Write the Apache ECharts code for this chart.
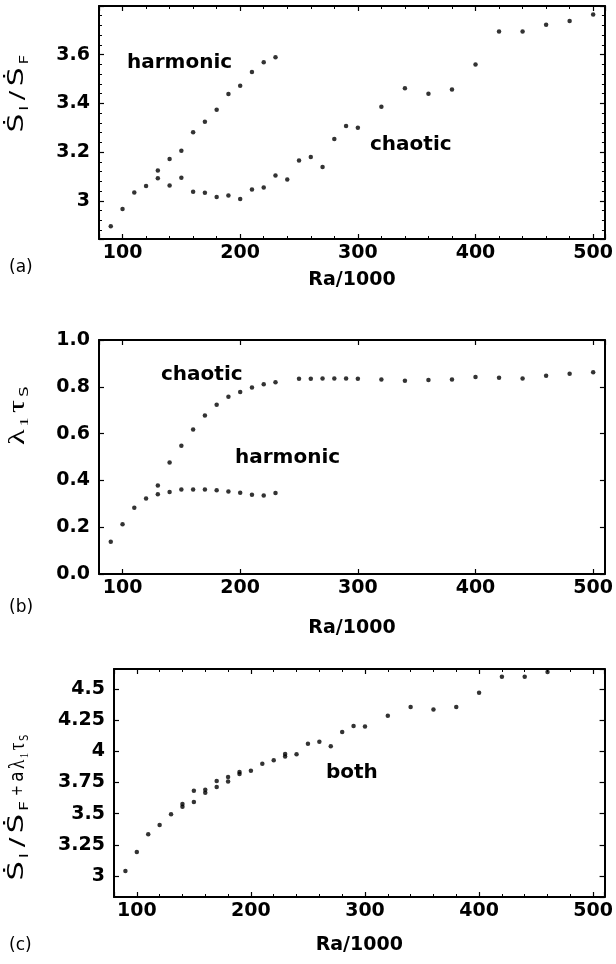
<!DOCTYPE html>
<html>
<head>
<meta charset="utf-8">
<script src="https://cdn.jsdelivr.net/npm/echarts@6/dist/echarts.min.js"></script>
<style>html,body{margin:0;padding:0;background:#fff}#c{width:616px;height:964px}</style>
</head>
<body>
<div id="c"></div>
<script>
// ---- Panel (a): S_I/S_F vs Ra/1000 ----
const aHarmRa  = [130,140,150,160,170,180,190,200,210,220,230];
const aHarmVal = [3.124,3.172,3.205,3.281,3.325,3.374,3.439,3.472,3.529,3.569,3.589];
const aChaRa   = [90,100,110,120,130,140,150,160,170,180,190,200,210,220,230,240,250,260,270,280,290,300,320,340,360,380,400,420,440,460,480,500];
const aChaVal  = [2.895,2.966,3.034,3.061,3.093,3.063,3.095,3.037,3.033,3.015,3.022,3.007,3.046,3.055,3.104,3.087,3.165,3.180,3.139,3.254,3.307,3.300,3.386,3.462,3.440,3.457,3.560,3.695,3.695,3.723,3.738,3.765];

// ---- Panel (b): lambda_1 tau_S vs Ra/1000 ----
const bChaRa   = [90,100,110,120,130,140,150,160,170,180,190,200,210,220,230,250,260,270,280,290,300,320,340,360,380,400,420,440,460,480,500];
const bChaVal  = [0.138,0.213,0.283,0.323,0.378,0.477,0.548,0.617,0.677,0.723,0.757,0.778,0.797,0.811,0.819,0.834,0.834,0.835,0.835,0.836,0.834,0.831,0.826,0.829,0.831,0.842,0.839,0.836,0.847,0.856,0.862];
const bHarmRa  = [130,140,150,160,170,180,190,200,210,220,230];
const bHarmVal = [0.341,0.350,0.361,0.361,0.361,0.358,0.353,0.347,0.339,0.336,0.346];

// ---- Panel (c): S_I/S_F + a lambda_1 tau_S (both) ----
const cRa  = [90,100,110,120,130,140,140,150,150,160,160,170,170,180,180,190,190,200,210,220,230,230,240,250,260,270,280,290,300,320,340,360,380,400,420,440,460];
const cVal = [3.040,3.193,3.335,3.408,3.496,3.555,3.577,3.593,3.684,3.668,3.692,3.714,3.762,3.759,3.794,3.818,3.834,3.845,3.901,3.928,3.958,3.979,3.976,4.062,4.078,4.041,4.156,4.204,4.199,4.285,4.357,4.336,4.355,4.470,4.599,4.599,4.636];

const xRange = [80, 510];
const yRangeA = [2.843, 3.8];
const yRangeB = [0, 1];
const yRangeC = [2.831, 4.661];

const zip = (xs, ys) => xs.map((x, i) => [x, ys[i]]);

const BOLD = 'DejaVu Sans';
const lineStyle = {color: '#000', width: 2};

function xAxes(grid, minor, gap) {
  const base = {
    type: 'value', gridIndex: grid, min: xRange[0], max: xRange[1],
    minInterval: 100, maxInterval: 100,
    axisLine: {show: true, onZero: false, lineStyle},
    axisTick: {show: true, inside: true, length: 5, lineStyle: {color: '#000', width: 1.2}},
    minorTick: {show: minor, splitNumber: 5, length: 3, lineStyle: {color: '#000', width: 1}},
    splitLine: {show: false}, minorSplitLine: {show: false}
  };
  return [
    Object.assign({}, base, {
      position: 'bottom',
      axisLabel: {show: true, color: '#000', fontFamily: BOLD, fontWeight: 'bold', fontSize: 19, margin: 5, showMinLabel: false, showMaxLabel: false},
      name: 'Ra/1000', nameLocation: 'middle', nameGap: gap,
      nameTextStyle: {color: '#000', fontFamily: BOLD, fontWeight: 'bold', fontSize: 19}
    }),
    Object.assign({}, base, {position: 'top', axisLabel: {show: false}})
  ];
}

function yAxes(grid, range, interval, minorOn, fmt) {
  const base = {
    type: 'value', gridIndex: grid, min: range[0], max: range[1],
    minInterval: interval, maxInterval: interval,
    axisLine: {show: true, onZero: false, lineStyle},
    axisTick: {show: true, inside: true, length: 5, lineStyle: {color: '#000', width: 1.2}},
    minorTick: {show: minorOn, splitNumber: 5, length: 3, lineStyle: {color: '#000', width: 1}},
    splitLine: {show: false}, minorSplitLine: {show: false}
  };
  const lab = {show: true, color: '#000', fontFamily: BOLD, fontWeight: 'bold', fontSize: 19, margin: 9};
  if (fmt) lab.formatter = fmt;
  if (grid !== 1) { lab.showMinLabel = false; lab.showMaxLabel = false; }
  return [
    Object.assign({}, base, {position: 'left', axisLabel: lab}),
    Object.assign({}, base, {position: 'right', axisLabel: {show: false}})
  ];
}

function scatter(data, xi, yi) {
  return {type: 'scatter', data, xAxisIndex: xi, yAxisIndex: yi, symbol: 'circle', symbolSize: 4.5,
          itemStyle: {color: '#000'}, silent: true, animation: false};
}

const annot = (text, x, y) => ({type: 'text', x, y, style: {text, fill: '#000', font: 'bold 20px "DejaVu Sans"', textAlign: 'left', textVerticalAlign: 'middle'}});
const panelLab = (text, x, y) => ({type: 'text', x, y, style: {text, fill: '#000', font: '17px "DejaVu Sans"', textAlign: 'left', textVerticalAlign: 'middle'}});

const richBase = {
  s:  {fontFamily: 'DejaVu Sans', fontSize: 21, lineHeight: 26, padding: [0, 1, 0, 1]},
  sb: {fontFamily: 'DejaVu Sans', fontSize: 12, lineHeight: 12, verticalAlign: 'bottom', padding: [0, 2, 0, 1]},
  n:  {fontFamily: 'DejaVu Sans', fontSize: 20, lineHeight: 26, padding: [0, 2, 0, 2]},
  p:  {fontFamily: 'DejaVu Sans', fontSize: 16, lineHeight: 26, padding: [0, 2, 0, 1]},
  g:  {fontFamily: 'Liberation Serif', fontSize: 23, lineHeight: 26, padding: [0, 1, 0, 1]},
  sg: {fontFamily: 'Liberation Serif', fontSize: 13, lineHeight: 12, verticalAlign: 'bottom', padding: [0, 2, 0, 1]}
};
function fitScale(text, target, fallback) {
  try {
    const t = new echarts.graphic.Text({style: {text, rich: richBase}});
    const r = t.getBoundingRect();
    if (r && r.width > 0) return target / r.width;
  } catch (e) {}
  return fallback;
}
const yTitle = (text, x, y, len, fb) => ({type: 'text', x, y, rotation: Math.PI / 2,
  scaleX: fitScale(text, len, fb), scaleY: 1,
  style: {text, rich: richBase, fill: '#000', textAlign: 'center', textVerticalAlign: 'middle'}});

const titleA  = '{s|Ṡ}{sb|I}{n|/}{s|Ṡ}{sb|F}';
const titleB  = '{g|λ}{sg|1}{g|τ}{sb|S}';
const titleC1 = '{s|Ṡ}{sb|I}{n|/}{s|Ṡ}{sb|F}';
const titleC2 = '{p|+}{n|a}{g|λ}{sg|1}{g|τ}{sb|S}';

const option = {
  animation: false,
  backgroundColor: '#fff',
  grid: [
    {left: 99, top: 6, width: 507, height: 233},
    {left: 99, top: 340, width: 507, height: 234},
    {left: 114, top: 669, width: 491, height: 228}
  ],
  xAxis: [...xAxes(0, true, 32), ...xAxes(1, false, 45), ...xAxes(2, true, 39)],
  yAxis: [
    ...yAxes(0, yRangeA, 0.2, true, null),
    ...yAxes(1, yRangeB, 0.2, false, v => v.toFixed(1)),
    ...yAxes(2, yRangeC, 0.25, false, null)
  ],
  series: [
    scatter(zip(aHarmRa, aHarmVal), 0, 0),
    scatter(zip(aChaRa, aChaVal), 0, 0),
    scatter(zip(bChaRa, bChaVal), 2, 2),
    scatter(zip(bHarmRa, bHarmVal), 2, 2),
    scatter(zip(cRa, cVal), 4, 4)
  ],
  graphic: [
    annot('harmonic', 127, 63),
    annot('chaotic', 370, 145),
    annot('chaotic', 161, 375),
    annot('harmonic', 235, 458),
    annot('both', 326, 773),
    panelLab('(a)', 9, 268),
    panelLab('(b)', 9, 608),
    panelLab('(c)', 9, 946),
    yTitle(titleA, 18, 93, 82, 1.45),
    yTitle(titleB, 18, 415, 63, 1.4),
    yTitle(titleC1, 18, 840, 84, 1.45),
    yTitle(titleC2, 18, 765, 64, 1.0)
  ]
};

const chart = echarts.init(document.getElementById('c'), null, {renderer: 'canvas'});
chart.setOption(option);
</script>
</body>
</html>
